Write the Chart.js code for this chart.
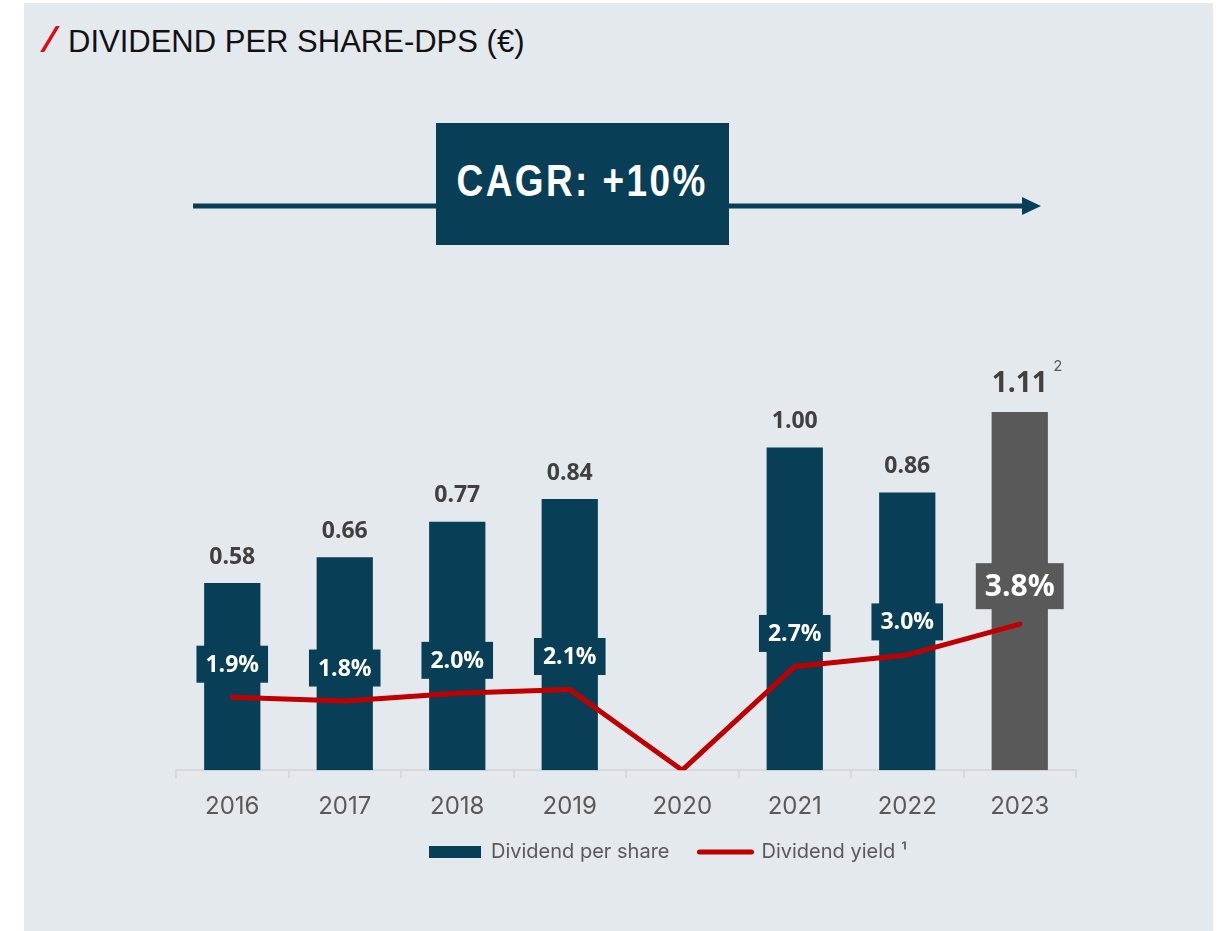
<!DOCTYPE html>
<html><head><meta charset="utf-8">
<script src="https://cdn.jsdelivr.net/npm/chart.js@4"></script>
<style>
html,body{margin:0;padding:0;background:#fff;width:1220px;height:931px;overflow:hidden}
#panel{position:absolute;left:24px;top:3px;width:1189px;height:928px;background:#E4E9EE}
#slash{position:absolute;left:48px;top:26px;width:4px;height:26px;background:#E30613;transform:skewX(-31deg)}
#title{position:absolute;left:68px;top:26px;font:31px/1 "Liberation Sans",Arial,sans-serif;color:#111;white-space:nowrap}
#arrow{position:absolute;left:0;top:0}
#cagr{position:absolute;left:436px;top:123px;width:293px;height:122px;background:#083F57;color:#fff;display:flex;align-items:center;justify-content:center;padding-bottom:8px;box-sizing:border-box;white-space:nowrap}
#cagr span{display:inline-block;font:bold 45px/1 "Liberation Sans",Arial,sans-serif;letter-spacing:3px;transform:scaleX(0.82)}
canvas{position:absolute;left:0;top:0}
</style></head>
<body>
<div id="panel"></div>
<div id="slash"></div>
<div id="title">DIVIDEND PER SHARE-DPS (€)</div>
<svg id="arrow" width="1220" height="300"><line x1="193" y1="206" x2="1028" y2="206" stroke="#083F57" stroke-width="5"/><polygon points="1022,197 1041,206 1022,215" fill="#083F57"/></svg>
<div id="cagr"><span>CAGR: +10%</span></div>
<canvas id="c" width="1220" height="931"></canvas>
<script>
const years = ['2016', '2017', '2018', '2019', '2020', '2021', '2022', '2023'];
const dps = [0.58, 0.66, 0.77, 0.84, null, 1.00, 0.86, 1.11];
const dpsLabels = ['0.58', '0.66', '0.77', '0.84', '', '1.00', '0.86', '1.11'];
const yieldPct = [1.9, 1.8, 2.0, 2.1, 0, 2.7, 3.0, 3.8];
const yieldLabels = ['1.9%', '1.8%', '2.0%', '2.1%', '', '2.7%', '3.0%', '3.8%'];
const seriesNames = ['Dividend per share', 'Dividend yield \u00B9'];

const TEAL = '#083F57', GRAY = '#595959', RED = '#C00000';
const LAST = years.length - 1;

const labelPlugin = {
  id: 'valueLabels',
  afterDatasetsDraw(chart) {
    const ctx = chart.ctx;
    const lineMeta = chart.getDatasetMeta(0);
    const barMeta = chart.getDatasetMeta(1);
    ctx.save();
    ctx.textAlign = 'center';
    ctx.textBaseline = 'middle';
    barMeta.data.forEach((el, i) => {
      if (dps[i] == null) return;
      const last = i === LAST;
      ctx.fillStyle = '#404040';
      ctx.font = `700 ${last ? 28 : 23}px "Open Sans"`;
      const cy = el.y - (last ? 28 : 26);
      ctx.fillText(dpsLabels[i], el.x, cy);
      if (last) {
        const w = ctx.measureText(dpsLabels[i]).width;
        ctx.font = '15px Inter';
        ctx.fillStyle = GRAY;
        ctx.fillText('2', el.x + w / 2 + 10, cy - 17);
      }
    });
    lineMeta.data.forEach((pt, i) => {
      if (!yieldLabels[i]) return;
      const last = i === LAST;
      ctx.font = `700 ${last ? 30 : 23}px "Open Sans"`;
      const w = ctx.measureText(yieldLabels[i]).width + 18;
      const h = last ? 46 : 37;
      const cy = pt.y - (last ? 38 : 33);
      ctx.fillStyle = last ? GRAY : TEAL;
      ctx.fillRect(pt.x - w / 2, cy - h / 2, w, h);
      ctx.fillStyle = '#fff';
      ctx.fillText(yieldLabels[i], pt.x, cy + 1);
    });
    ctx.restore();
  }
};

const legendShift = {
  id: 'legendShift',
  afterLayout(chart) {
    const l = chart.legend;
    const dx = 42, dy = -23;
    l.left += dx; l.right += dx;
    l.top += dy; l.bottom += dy;
  }
};

new Chart(document.getElementById('c'), {
  type: 'bar',
  data: {
    labels: years,
    datasets: [
      {
        type: 'line',
        label: seriesNames[1],
        data: yieldPct,
        yAxisID: 'y2',
        borderColor: RED,
        backgroundColor: RED,
        borderWidth: 5,
        pointRadius: 0,
        tension: 0,
        borderCapStyle: 'round',
        borderJoinStyle: 'round',
        order: 0
      },
      {
        type: 'bar',
        label: seriesNames[0],
        data: dps,
        yAxisID: 'y',
        backgroundColor: c => c.dataIndex === LAST ? GRAY : TEAL,
        categoryPercentage: 1,
        barPercentage: 0.5,
        order: 1
      }
    ]
  },
  options: {
    responsive: false,
    animation: false,
    devicePixelRatio: 1,
    layout: { padding: { left: 176, right: 144, top: 286, bottom: 36 } },
    plugins: {
      tooltip: { enabled: false },
      legend: {
        position: 'bottom',
        labels: {
          usePointStyle: true,
          pointStyleWidth: 52,
          boxHeight: 12,
          padding: 30,
          font: { family: 'Inter', size: 20 },
          color: GRAY,
          generateLabels() {
            return [
              { text: seriesNames[0], fillStyle: TEAL, strokeStyle: TEAL, lineWidth: 0, pointStyle: 'rect', fontColor: GRAY, datasetIndex: 1, hidden: false },
              { text: seriesNames[1], fillStyle: RED, strokeStyle: RED, lineWidth: 5, lineCap: 'round', pointStyle: 'line', fontColor: GRAY, datasetIndex: 0, hidden: false }
            ];
          }
        }
      }
    },
    scales: {
      x: {
        grid: { display: true, drawOnChartArea: false, drawTicks: true, tickLength: 8, color: '#D6D8DA', lineWidth: 2, offset: true },
        border: { display: true, color: '#D6D8DA', width: 2 },
        ticks: { font: { family: 'Inter', size: 24 }, color: GRAY, padding: 14 }
      },
      y: { display: false, min: 0, max: 1.5 },
      y2: { display: false, min: 0, max: 12.6, position: 'right' }
    }
  },
  plugins: [labelPlugin, legendShift]
});
</script>
</body></html>
